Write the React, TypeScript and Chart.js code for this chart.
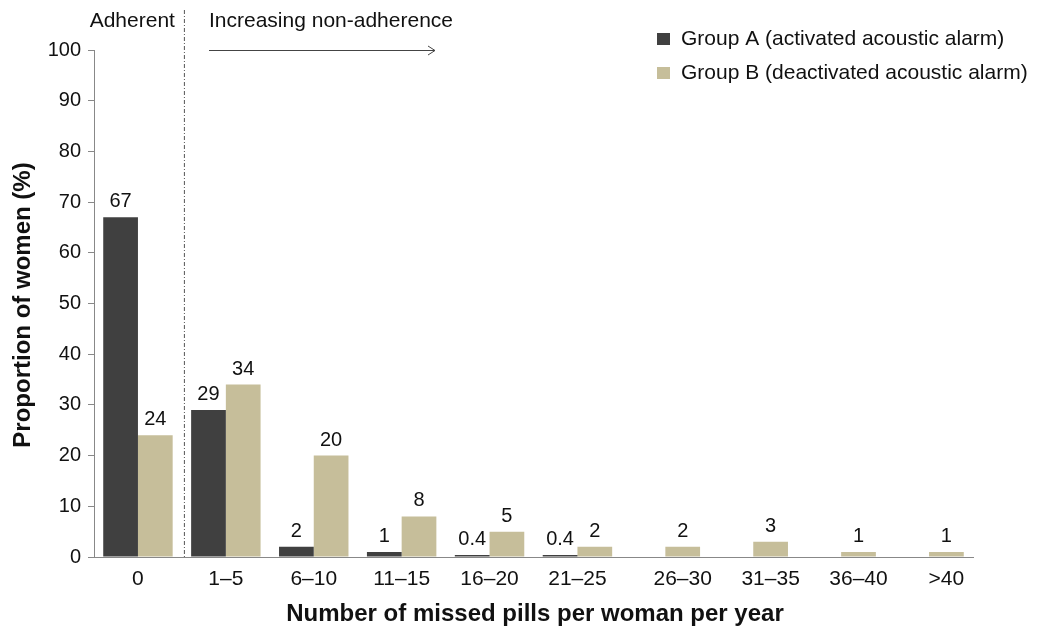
import React, { useEffect, useRef } from "react";
import { Chart, registerables } from "chart.js";

Chart.register(...registerables);

const categories = ["0", "1–5", "6–10", "11–15", "16–20", "21–25", "26–30", "31–35", "36–40", ">40"];
const groupA: (number | null)[] = [67, 29, 2, 1, 0.4, 0.4, null, null, null, null];
const groupB: (number | null)[] = [24, 34, 20, 8, 5, 2, 2, 3, 1, 1];
const labelA = "Group A (activated acoustic alarm)";
const labelB = "Group B (deactivated acoustic alarm)";
const yTicks = { min: 0, max: 100, step: 10 };
const colorA = "#404040";
const colorB = "#c6be9a";
const FONT = "'Liberation Sans', Arial, sans-serif";

const overlayPlugin = {
  id: "overlay",
  afterDatasetsDraw(chart: any) {
    const ctx = chart.ctx;
    const xs = chart.scales.x;
    const area = chart.chartArea;
    const metaA = chart.getDatasetMeta(0);
    const metaB = chart.getDatasetMeta(1);
    ctx.save();
    ctx.fillStyle = "#111";
    ctx.font = `20px ${FONT}`;
    ctx.textAlign = "center";
    ctx.textBaseline = "alphabetic";
    // value labels
    [metaA, metaB].forEach((meta: any, di: number) => {
      const data = chart.data.datasets[di].data;
      meta.data.forEach((bar: any, i: number) => {
        const v = data[i];
        if (v === null || v === undefined) return;
        ctx.fillText(String(v), bar.x, bar.y - 10);
      });
    });
    // x tick labels
    ctx.font = `21px ${FONT}`;
    ctx.textBaseline = "middle";
    categories.forEach((c, i) => {
      let x = xs.getPixelForValue(i);
      if (groupA[i] === null) x = metaB.data[i].x;
      ctx.fillText(c, x, area.bottom + 22);
    });
    // axis titles
    ctx.font = `bold 24px ${FONT}`;
    ctx.fillText("Number of missed pills per woman per year", 535, 614);
    ctx.save();
    ctx.translate(23, 305);
    ctx.rotate(-Math.PI / 2);
    ctx.fillText("Proportion of women (%)", 0, 0);
    ctx.restore();
    // divider line
    const divX = (xs.getPixelForValue(0) + xs.getPixelForValue(1)) / 2 + 2;
    ctx.strokeStyle = "#555";
    ctx.lineWidth = 1;
    ctx.setLineDash([4, 2, 1, 2]);
    ctx.beginPath();
    ctx.moveTo(divX + 0.5, 10);
    ctx.lineTo(divX + 0.5, area.bottom);
    ctx.stroke();
    ctx.setLineDash([]);
    // annotations
    ctx.font = `21px ${FONT}`;
    ctx.fillStyle = "#111";
    ctx.textAlign = "right";
    ctx.fillText("Adherent", divX - 9, 21);
    ctx.textAlign = "left";
    ctx.fillText("Increasing non-adherence", 209, 21);
    // arrow
    ctx.strokeStyle = "#444";
    ctx.beginPath();
    ctx.moveTo(209, 50.5);
    ctx.lineTo(435, 50.5);
    ctx.moveTo(428, 46);
    ctx.lineTo(435, 50.5);
    ctx.lineTo(428, 55);
    ctx.stroke();
    // legend
    const items = [
      { c: colorA, t: labelA, y: 39 },
      { c: colorB, t: labelB, y: 73 },
    ];
    items.forEach((it) => {
      ctx.fillStyle = it.c;
      ctx.fillRect(657, it.y - 6, 13, 12);
      ctx.fillStyle = "#111";
      ctx.textBaseline = "middle";
      ctx.fillText(it.t, 681, it.y);
    });
    ctx.restore();
  },
};

export default function App() {
  const ref = useRef<HTMLCanvasElement>(null);
  useEffect(() => {
    if (!ref.current) return;
    const chart = new Chart(ref.current, {
      type: "bar",
      data: {
        labels: categories,
        datasets: [
          { label: labelA, data: groupA, backgroundColor: colorA },
          { label: labelB, data: groupB, backgroundColor: colorB },
        ],
      },
      options: {
        animation: false,
        responsive: false,
        maintainAspectRatio: false,
        layout: { padding: { left: 0, right: 64, top: 50, bottom: 0 } },
        plugins: { legend: { display: false }, tooltip: { enabled: false } },
        datasets: { bar: { categoryPercentage: 0.79, barPercentage: 1 } },
        scales: {
          x: {
            grid: { display: false },
            border: { display: true, color: "#888", width: 1 },
            ticks: { display: false },
            afterFit: (s: any) => { s.height = 72; },
          },
          y: {
            min: yTicks.min,
            max: yTicks.max,
            ticks: {
              stepSize: yTicks.step,
              color: "#111",
              padding: 7,
              font: { size: 20, family: FONT },
            },
            grid: { display: true, drawOnChartArea: false, drawTicks: true, tickLength: 6, color: "#888" },
            border: { display: true, color: "#888", width: 1 },
            afterFit: (s: any) => { s.width = 94; },
          },
        },
      },
      plugins: [overlayPlugin],
    } as any);
    return () => chart.destroy();
  }, []);
  return (
    <div style={{ position: "fixed", left: 0, top: 0, width: 1037, height: 629, background: "#fff" }}>
      <canvas ref={ref} width={1037} height={629} style={{ width: 1037, height: 629 }} />
    </div>
  );
}
